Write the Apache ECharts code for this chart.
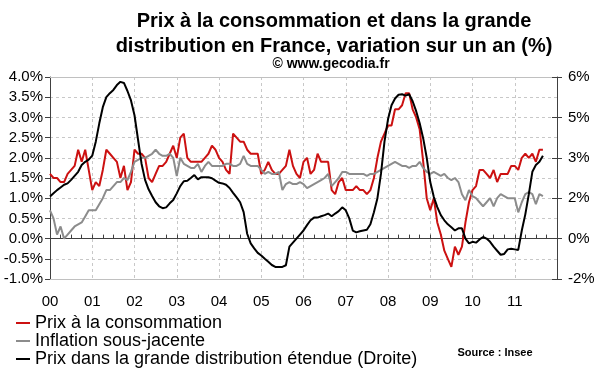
<!DOCTYPE html>
<html><head><meta charset="utf-8">
<script src="https://cdn.jsdelivr.net/npm/echarts@6/dist/echarts.min.js"></script>
<style>html,body{margin:0;padding:0;background:#fff}#c{width:600px;height:372px}</style>
</head><body><div id="c"></div>
<script>
const yearLabels = ['00','01','02','03','04','05','06','07','08','09','10','11'];
// Prix à la consommation (%), monthly Jan 2000 - Sep 2011
const cpi = [
 1.6,1.5,1.5,1.4,1.4,1.6,1.7,1.8,2.2,1.9,2.2,1.7,
 1.2,1.4,1.3,1.7,2.2,2.1,2.0,1.9,1.5,1.8,1.2,1.4,
 2.2,2.1,2.1,2.0,1.5,1.4,1.6,1.8,1.8,1.9,2.1,2.3,
 2.0,2.5,2.6,2.0,1.9,1.9,1.9,1.9,2.0,2.1,2.3,2.2,
 2.0,1.9,1.7,1.6,2.6,2.5,2.4,2.4,2.2,2.1,2.1,2.1,
 1.6,1.7,1.9,1.7,1.6,1.6,1.7,1.8,2.2,1.8,1.6,1.5,
 1.9,2.0,1.6,1.7,2.1,1.9,1.9,1.9,1.2,1.1,1.4,1.5,
 1.2,1.2,1.2,1.3,1.2,1.2,1.1,1.2,1.5,2.0,2.4,2.6,
 2.8,2.8,3.2,3.2,3.3,3.6,3.6,3.2,3.0,2.7,1.9,1.0,
 0.7,1.0,0.4,0.1,-0.3,-0.5,-0.7,-0.2,-0.4,-0.2,0.4,0.9,
 1.2,1.3,1.7,1.7,1.6,1.5,1.7,1.4,1.6,1.6,1.6,1.8,
 1.8,1.7,2.0,2.1,2.0,2.1,1.9,2.2,2.2
];
// Inflation sous-jacente (%)
const core = [
 0.7,0.5,0.1,0.3,0.0,0.1,0.2,0.3,0.35,0.4,0.55,0.7,
 0.7,0.7,0.85,1.0,1.2,1.2,1.3,1.4,1.4,1.5,1.45,1.65,
 1.9,1.95,2.0,2.0,2.05,2.1,2.2,2.1,2.05,2.05,2.1,2.0,
 1.55,2.0,1.85,1.8,1.75,1.75,1.85,1.65,1.8,1.9,1.8,1.8,
 1.8,1.8,1.85,1.85,1.8,1.8,1.85,2.05,1.85,1.8,1.8,1.8,
 1.7,1.6,1.65,1.6,1.6,1.65,1.2,1.35,1.4,1.35,1.35,1.4,
 1.35,1.25,1.3,1.35,1.4,1.45,1.5,1.6,1.3,1.4,1.5,1.65,
 1.65,1.6,1.6,1.6,1.6,1.6,1.55,1.6,1.6,1.65,1.7,1.75,
 1.8,1.85,1.9,1.85,1.8,1.8,1.75,1.8,1.8,1.9,1.75,1.65,
 1.6,1.65,1.6,1.55,1.6,1.5,1.45,1.5,1.4,1.1,0.95,1.2,
 1.05,1.0,0.9,0.8,0.9,1.0,0.8,1.0,1.1,1.05,1.0,1.0,
 1.0,0.65,0.9,1.1,1.15,1.1,0.85,1.1,1.05
];
// Prix dans la grande distribution étendue (%), right axis
const gd = [
 1.56,1.68,1.8,1.9,2.0,2.05,2.18,2.33,2.48,2.73,2.85,2.93,
 3.08,3.6,4.28,4.88,5.25,5.4,5.52,5.7,5.82,5.78,5.48,5.13,
 4.58,3.68,2.78,2.18,1.83,1.58,1.35,1.2,1.13,1.16,1.31,1.43,
 1.68,1.95,2.13,2.15,2.25,2.36,2.2,2.28,2.28,2.28,2.24,2.15,
 2.07,2.05,2.0,1.88,1.7,1.53,1.35,0.98,0.18,-0.18,-0.36,-0.53,
 -0.63,-0.75,-0.86,-0.98,-1.05,-1.05,-1.05,-0.99,-0.3,-0.15,0.0,0.15,
 0.3,0.5,0.68,0.78,0.78,0.83,0.87,0.93,0.83,0.93,1.02,1.16,
 1.05,0.75,0.3,0.23,0.27,0.3,0.33,0.53,0.98,1.5,2.4,3.6,
 4.43,4.95,5.2,5.34,5.36,5.31,5.36,5.1,4.73,4.28,3.72,3.0,
 2.1,1.55,1.17,0.87,0.68,0.53,0.42,0.3,0.38,0.38,0.0,-0.18,
 -0.12,-0.15,-0.03,0.06,0.0,-0.12,-0.3,-0.45,-0.6,-0.57,-0.4,-0.38,
 -0.4,-0.42,0.3,0.9,1.65,2.48,2.73,2.85,3.08
];
const seriesNames = ['Prix à la consommation','Inflation sous-jacente','Prix dans la grande distribution étendue (Droite)'];

const categories = [];
for (let y = 0; y <= 12; y++) {
  for (let m = 1; m <= 12; m++) {
    if (y === 12 && m > 1) break;
    categories.push((2000 + y) + '-' + String(m).padStart(2, '0'));
  }
}
const FONT = "'Liberation Sans', Arial, sans-serif";
const isYear = (i) => i % 12 === 0 && i < 144;
const roundAway = (v) => (v < 0 ? -Math.round(-v) : Math.round(v));

const chart = echarts.init(document.getElementById('c'), null, {renderer: 'canvas'});
chart.setOption({
  animation: false,
  backgroundColor: '#fff',
  grid: {left: 50, right: 43, top: 77, bottom: 93, containLabel: false},
  legend: {
    orient: 'vertical', left: 16, top: 314, width: 500, height: 80, padding: 0,
    itemWidth: 14, itemHeight: 2, itemGap: 0,
    icon: 'rect', data: seriesNames,
    textStyle: {fontFamily: FONT, fontSize: 18, color: '#000', lineHeight: 17.5}
  },
  graphic: [
    {type: 'text', x: 334, y: 9, style: {text: 'Prix à la consommation et dans la grande\ndistribution en France, variation sur un an (%)', font: 'bold 20px ' + FONT, textAlign: 'center', textVerticalAlign: 'top', lineHeight: 25, fill: '#000'}},
    {type: 'text', x: 331, y: 57, style: {text: '© www.gecodia.fr', font: 'bold 14px ' + FONT, textAlign: 'center', textVerticalAlign: 'top', fill: '#000'}},
    {type: 'text', x: 495, y: 347, style: {text: 'Source : Insee', font: 'bold 11px ' + FONT, textAlign: 'center', textVerticalAlign: 'top', fill: '#000'}}
  ],
  xAxis: [
    {
      type: 'category', data: categories, boundaryGap: false, position: 'bottom',
      axisLine: {show: true, onZero: false, lineStyle: {color: '#c0c0c0', width: 1}},
      axisTick: {show: false},
      axisLabel: {interval: (i) => isYear(i), formatter: (v, i) => yearLabels[i / 12], fontFamily: FONT, fontSize: 15, color: '#000', margin: 15},
      splitLine: {show: true, interval: (i) => i % 12 === 0, lineStyle: {type: [3, 3], color: '#c8c8c8', width: 1}}
    },
    {
      type: 'category', data: categories, boundaryGap: false, position: 'bottom',
      axisLine: {show: true, onZero: true, lineStyle: {color: '#404040', width: 1}},
      axisTick: {show: true, inside: true, interval: 2, length: 4, lineStyle: {color: '#404040'}},
      axisLabel: {show: false}, splitLine: {show: false}
    },
    {
      type: 'category', data: categories, boundaryGap: false, position: 'top',
      axisLine: {show: true, onZero: false, lineStyle: {color: '#c0c0c0', width: 1}},
      axisTick: {show: false}, axisLabel: {show: false}, splitLine: {show: false}
    }
  ],
  yAxis: [
    {
      type: 'value', min: -1, max: 4, interval: 0.5, position: 'left',
      axisLine: {show: true, lineStyle: {color: '#404040'}},
      axisTick: {show: true, length: 5, lineStyle: {color: '#404040'}},
      axisLabel: {formatter: (v) => v.toFixed(1) + '%', fontFamily: FONT, fontSize: 15, color: '#000', margin: 7},
      splitLine: {show: true, lineStyle: {type: [3, 3], color: '#c8c8c8', width: 1}}
    },
    {
      type: 'value', min: -1.5, max: 6, interval: 1.5, position: 'right',
      axisLine: {show: true, lineStyle: {color: '#404040'}},
      axisTick: {show: true, length: 5, lineStyle: {color: '#404040'}},
      axisLabel: {formatter: (v) => roundAway(v) + '%', fontFamily: FONT, fontSize: 15, color: '#000', margin: 11},
      splitLine: {show: false}
    },
    {
      type: 'value', min: -1.5, max: 6, interval: 1.5, position: 'right',
      axisLine: {show: false},
      axisTick: {show: true, inside: true, length: 5, lineStyle: {color: '#404040'}},
      axisLabel: {show: false}, splitLine: {show: false}
    }
  ],
  series: [
    {name: seriesNames[0], type: 'line', data: cpi, xAxisIndex: 0, yAxisIndex: 0, symbol: 'none', lineStyle: {color: '#cc1111', width: 2}, itemStyle: {color: '#cc1111'}},
    {name: seriesNames[1], type: 'line', data: core, xAxisIndex: 0, yAxisIndex: 0, symbol: 'none', lineStyle: {color: '#8c8c8c', width: 2}, itemStyle: {color: '#8c8c8c'}},
    {name: seriesNames[2], type: 'line', data: gd, xAxisIndex: 0, yAxisIndex: 1, symbol: 'none', lineStyle: {color: '#000000', width: 2}, itemStyle: {color: '#000000'}}
  ]
});
</script>
</body></html>
